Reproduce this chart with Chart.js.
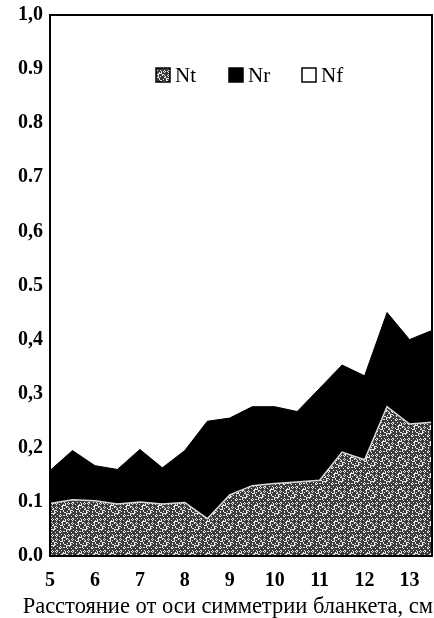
<!DOCTYPE html>
<html>
<head>
<meta charset="utf-8">
<script src="https://cdn.jsdelivr.net/npm/chart.js@4.4.1/dist/chart.umd.min.js"></script>
<style>
  body { margin: 0; background: #fff; }
</style>
</head>
<body>
<canvas id="nChart" width="434" height="618"></canvas>
<script>
const xLabels = ['5', '5.5', '6', '6.5', '7', '7.5', '8', '8.5', '9', '9.5',
  '10', '10.5', '11', '11.5', '12', '12.5', '13', '13.5'];

const xTickLabels = ['5', '6', '7', '8', '9', '10', '11', '12', '13'];

const ntValues = [0.097, 0.104, 0.102, 0.096, 0.100, 0.096, 0.099, 0.069, 0.113,
  0.130, 0.134, 0.137, 0.140, 0.192, 0.178, 0.276, 0.244, 0.247];

const nrValues = [0.061, 0.091, 0.065, 0.064, 0.097, 0.067, 0.096, 0.180, 0.142,
  0.146, 0.142, 0.130, 0.170, 0.161, 0.155, 0.174, 0.156, 0.170];

const nfValues = [0.842, 0.805, 0.833, 0.840, 0.803, 0.837, 0.805, 0.751, 0.745,
  0.724, 0.724, 0.733, 0.690, 0.647, 0.667, 0.550, 0.600, 0.583];

const yTickLabels = ['0.0', '0.1', '0,2', '0,3', '0,4', '0.5', '0,6', '0.7', '0.8', '0.9', '1,0'];

const xTitle = 'Расстояние от оси симметрии бланкета, см';

// speckled grey texture for Nt
function makeSpeckle(){
  const c = document.createElement('canvas');
  c.width = 16;
  c.height = 16;
  const g = c.getContext('2d');
  g.fillStyle = '#3c3c3c';
  g.fillRect(0, 0, 16, 16);
  g.fillStyle = '#e8e8e8';
  for (let x = 0; x < 16; x++) {
    for (let y = 0; y < 16; y++) {
      if ((x * 37 + y * 91 + x * y * 13) % 17 < 5) g.fillRect(x, y, 1, 1);
    }
  }
  return g.createPattern(c, 'repeat');
}

const speckle = makeSpeckle();

// frame, in-plot legend and the axis caption (wider than the x scale itself)
const frameAndLegend = {
  id: 'frameAndLegend',
  afterDatasetsDraw(chart){
    const ctx = chart.ctx;
    const a = chart.chartArea;
    ctx.save();
    ctx.strokeStyle = '#000';
    ctx.lineWidth = 2;
    ctx.strokeRect(a.left, a.top, a.right - a.left, a.bottom - a.top);

    ctx.font = '21px "Liberation Serif"';
    ctx.textBaseline = 'middle';
    ctx.fillStyle = '#000';
    let x = a.left + 106;
    const y = a.top + 60;
    chart.data.datasets.forEach(ds => {
      ctx.fillStyle = ds.backgroundColor;
      ctx.fillRect(x, y - 7, 14, 14);
      ctx.lineWidth = 1.5;
      ctx.strokeStyle = '#000';
      ctx.strokeRect(x, y - 7, 14, 14);
      ctx.fillStyle = '#000';
      ctx.fillText(ds.label, x + 19, y + 1);
      x += 73;
    });

    ctx.font = '22.5px "Liberation Serif"';
    ctx.textAlign = 'right';
    ctx.fillText(xTitle, a.right + 1, chart.height - 11);
    ctx.restore();
  }
};

new Chart(document.getElementById('nChart'), {

  type: 'line',

  data: {
    labels: xLabels,
    datasets: [
      {
        label: 'Nt',
        data: ntValues,
        backgroundColor: speckle,
        borderColor: '#d8d8d8',
        borderWidth: 1.5,
        fill: 'origin'
      },
      {
        label: 'Nr',
        data: nrValues,
        backgroundColor: '#000',
        borderColor: '#000',
        borderWidth: 1,
        fill: '-1'
      },
      {
        label: 'Nf',
        data: nfValues,
        backgroundColor: '#fff',
        borderColor: 'rgba(0,0,0,0)',
        borderWidth: 0,
        fill: '-1'
      }
    ]
  },

  options: {
    responsive: false,
    animation: false,
    layout: {
      padding: { top: 15, right: 2, left: 0, bottom: 0 }
    },
    elements: {
      point: { radius: 0 },
      line: { tension: 0 }
    },
    plugins: {
      legend: { display: false },
      tooltip: { enabled: false }
    },
    scales: {
      x: {
        offset: false,
        grid: { display: false, drawTicks: false },
        border: { display: false },
        ticks: {
          autoSkip: false,
          maxRotation: 0,
          padding: 13,
          color: '#000',
          font: { family: 'Liberation Serif', size: 20, weight: 'bold' },
          callback: function(value){
            const lbl = this.getLabelForValue(value);
            return xTickLabels.includes(lbl) ? lbl : '';
          }
        },
        afterFit(scale){
          scale.height = 62;
          scale.paddingLeft = 0;
          scale.paddingRight = 0;
        }
      },
      y: {
        stacked: true,
        min: 0,
        max: 1,
        grid: { display: false, drawTicks: false },
        border: { display: false },
        ticks: {
          stepSize: 0.1,
          padding: 7,
          color: '#000',
          font: { family: 'Liberation Serif', size: 20, weight: 'bold' },
          callback: (v, i) => yTickLabels[i]
        },
        afterFit(scale){
          scale.width = 50;
          scale.paddingTop = 0;
          scale.paddingBottom = 0;
        }
      }
    }
  },

  plugins: [frameAndLegend]

});
</script>
</body>
</html>
